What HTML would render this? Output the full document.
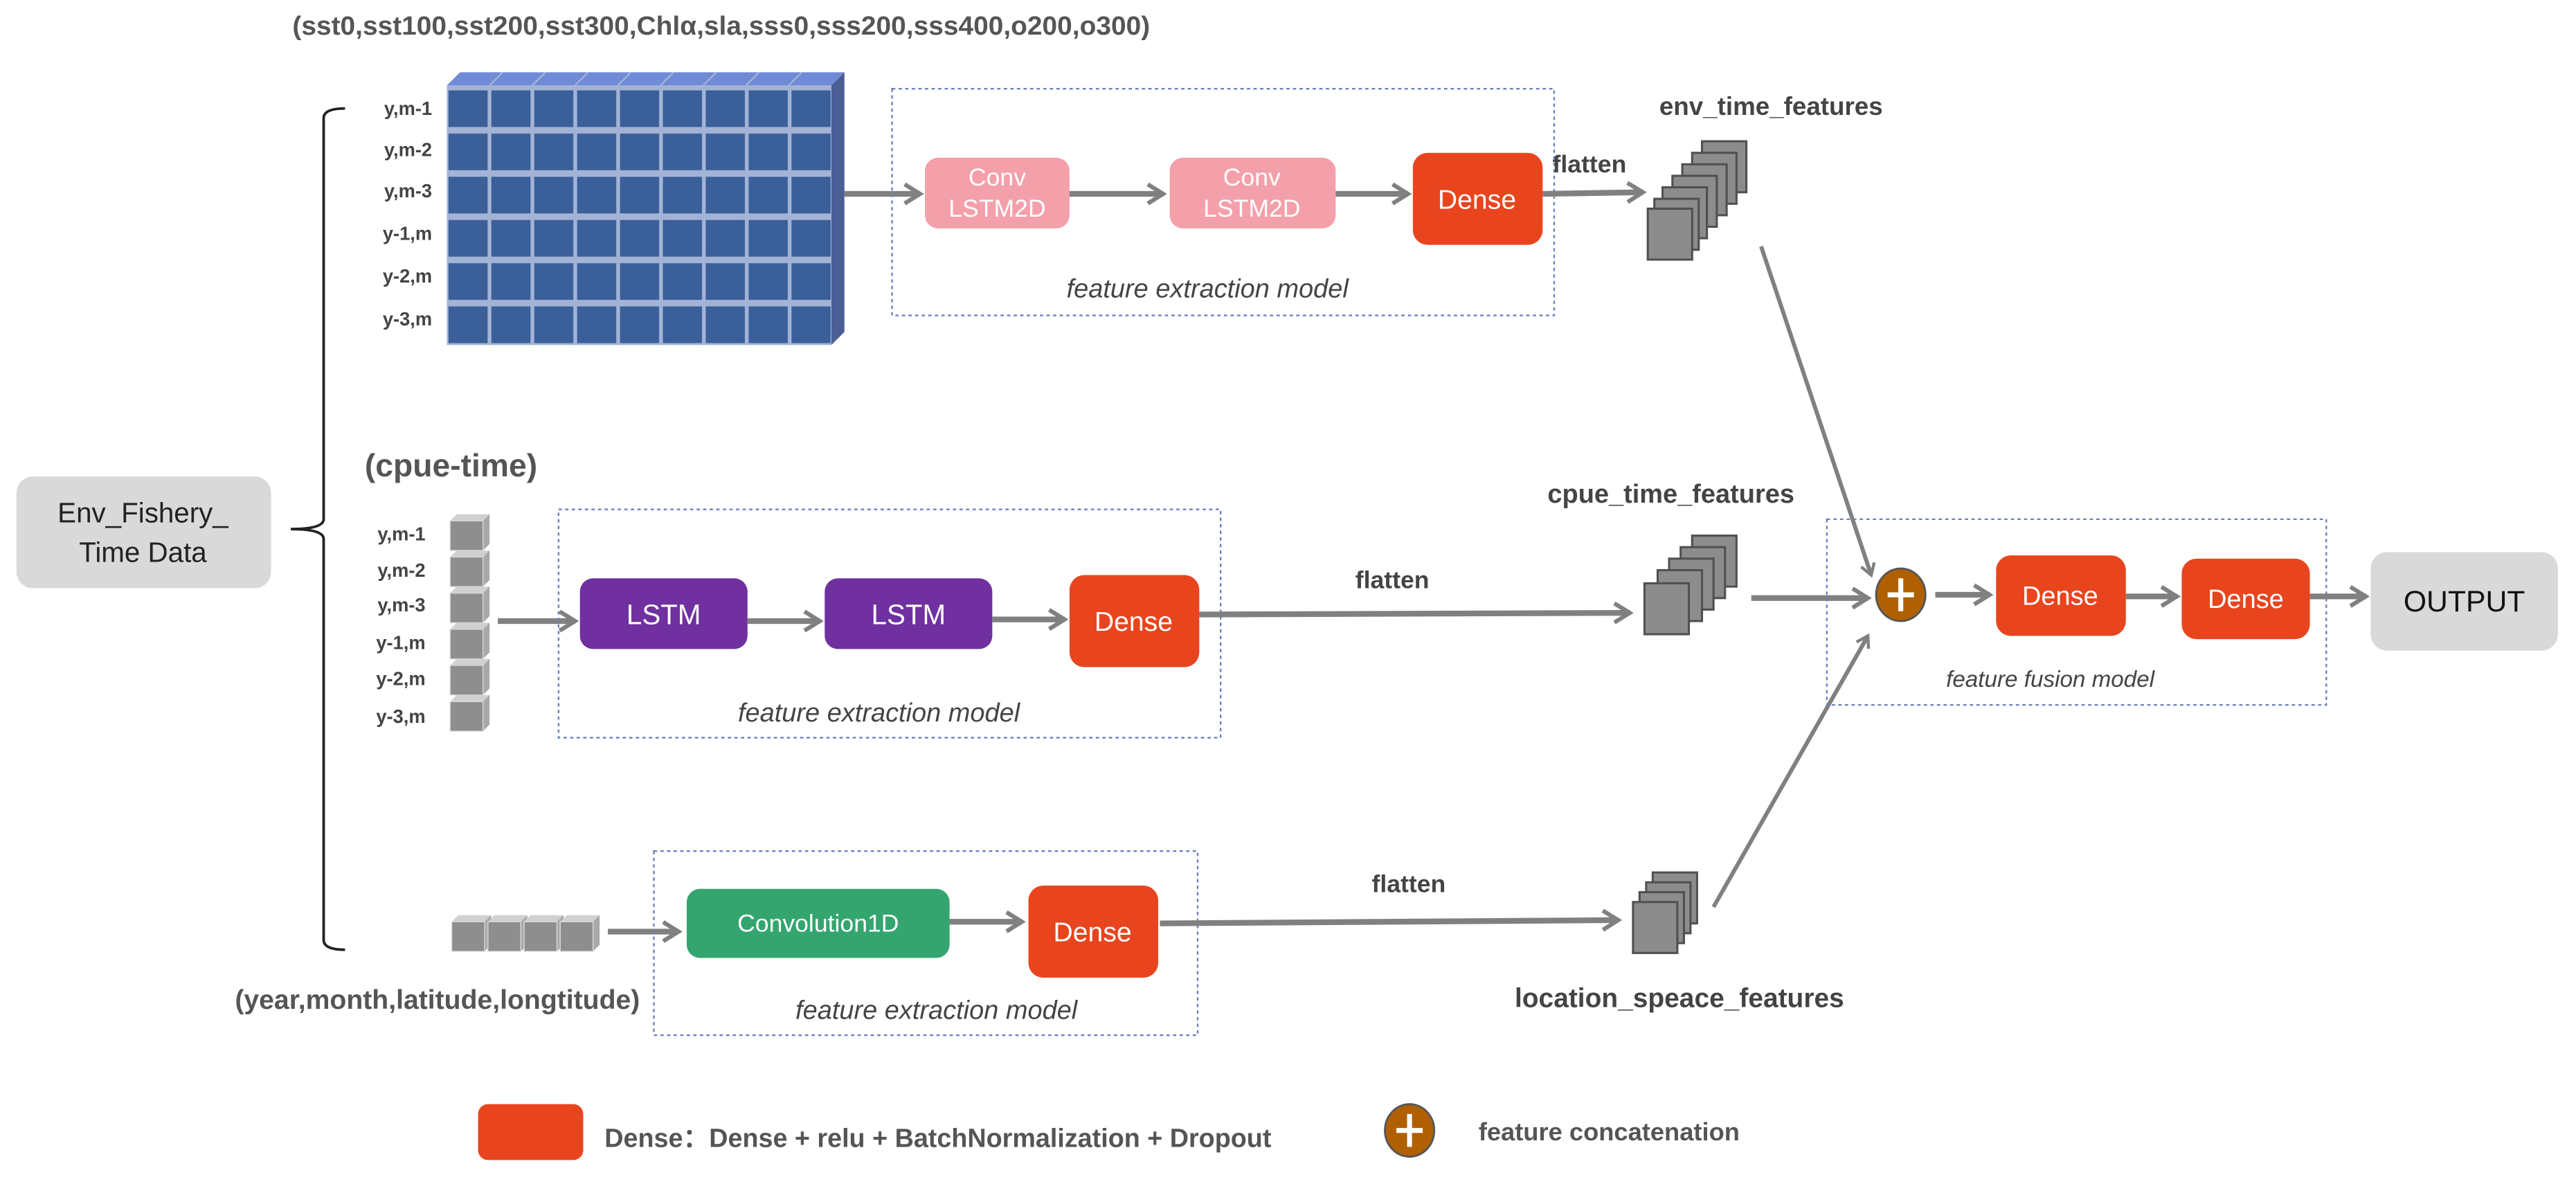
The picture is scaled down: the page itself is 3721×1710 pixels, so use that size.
<!DOCTYPE html>
<html><head><meta charset="utf-8"><style>
html,body{margin:0;padding:0;background:#fff;}
svg{display:block;}
text{font-family:"Liberation Sans",sans-serif;}
</style></head><body>
<svg width="3721" height="1710" viewBox="0 0 1568 720.6" preserveAspectRatio="none" xmlns="http://www.w3.org/2000/svg">
<defs>
<marker id="ar" viewBox="0 0 12 12" refX="10" refY="6" markerWidth="4" markerHeight="4" orient="auto" markerUnits="strokeWidth">
<path d="M2,1 L10,6 L2,11" fill="none" stroke="#808080" stroke-width="2.2"/>
</marker>
<pattern id="grid" x="272" y="52" width="26.1" height="26.3" patternUnits="userSpaceOnUse">
<rect width="26.1" height="26.3" fill="#a3b3d6"/>
<rect x="1" y="3" width="23.8" height="22.3" fill="#3a5f99"/>
</pattern>
<g id="gc">
<polygon points="0,4 4,0 24,0 20,4" fill="#d0d0d0"/>
<polygon points="20,4 24,0 24,18 20,22" fill="#a8a8a8"/>
<rect x="0" y="4" width="20" height="18" fill="#8e8e8e" stroke="#d8d8d8" stroke-width="0.6"/>
</g>
<g id="ft"><rect width="27" height="31" fill="#8c8c8c" stroke="#505050" stroke-width="1.3"/></g>
</defs>

<!-- title -->
<text x="178" y="21" font-size="16" font-weight="bold" fill="#555" textLength="522" lengthAdjust="spacingAndGlyphs">(sst0,sst100,sst200,sst300,Chlα,sla,sss0,sss200,sss400,o200,o300)</text>

<!-- Env box -->
<rect x="10" y="290" width="155" height="68" rx="10" fill="#d9d9d9"/>
<text x="87" y="318" font-size="17" text-anchor="middle" fill="#222">Env_Fishery_</text>
<text x="87" y="342" font-size="17" text-anchor="middle" fill="#222">Time Data</text>

<!-- bracket -->
<path d="M210,66 Q197,66 197,72 L197,316 Q197,322 177,322 Q197,322 197,328 L197,572 Q197,578 210,578" fill="none" stroke="#222" stroke-width="1.6"/>

<!-- cube grid -->
<polygon points="272,52 280,44 514,44 506,52" fill="#6f8ad6"/>
<polygon points="506,52 514,44 514,202 506,210" fill="#4d5e96"/>
<rect x="272" y="52" width="234" height="158" fill="url(#grid)"/>
<g stroke="#a3b3d6" stroke-width="1">
<line x1="298" y1="52" x2="306" y2="44"/><line x1="324" y1="52" x2="332" y2="44"/><line x1="350" y1="52" x2="358" y2="44"/><line x1="376" y1="52" x2="384" y2="44"/><line x1="402" y1="52" x2="410" y2="44"/><line x1="428" y1="52" x2="436" y2="44"/><line x1="454" y1="52" x2="462" y2="44"/><line x1="480" y1="52" x2="488" y2="44"/>
</g>
<g font-size="11.5" font-weight="bold" fill="#444" text-anchor="end">
<text x="263" y="70">y,m-1</text><text x="263" y="95">y,m-2</text><text x="263" y="120">y,m-3</text>
<text x="263" y="146">y-1,m</text><text x="263" y="172">y-2,m</text><text x="263" y="198">y-3,m</text>
</g>

<!-- top row -->
<line x1="514" y1="118" x2="560" y2="118" stroke="#808080" stroke-width="3.5" marker-end="url(#ar)"/>
<rect x="543" y="54" width="403" height="138" fill="none" stroke="#6f7fc0" stroke-width="1" stroke-dasharray="2,2"/>
<rect x="563" y="96" width="88" height="43" rx="8" fill="#f4a0aa"/>
<text x="607" y="113" font-size="15" fill="#fff" text-anchor="middle">Conv</text>
<text x="607" y="132" font-size="15" fill="#fff" text-anchor="middle">LSTM2D</text>
<line x1="651" y1="118" x2="708" y2="118" stroke="#808080" stroke-width="3.5" marker-end="url(#ar)"/>
<rect x="712" y="96" width="101" height="43" rx="8" fill="#f4a0aa"/>
<text x="762" y="113" font-size="15" fill="#fff" text-anchor="middle">Conv</text>
<text x="762" y="132" font-size="15" fill="#fff" text-anchor="middle">LSTM2D</text>
<line x1="813" y1="118" x2="857" y2="118" stroke="#808080" stroke-width="3.5" marker-end="url(#ar)"/>
<rect x="860" y="93" width="79" height="56" rx="9" fill="#e8451e"/>
<text x="899" y="127" font-size="16.5" fill="#fff" text-anchor="middle">Dense</text>
<text x="735" y="181" font-size="16" font-style="italic" fill="#444" text-anchor="middle">feature extraction model</text>
<text x="945" y="105" font-size="15" font-weight="bold" fill="#444">flatten</text>
<line x1="939" y1="118" x2="1000" y2="117" stroke="#808080" stroke-width="3.5" marker-end="url(#ar)"/>
<text x="1010" y="70" font-size="15.5" font-weight="bold" fill="#444">env_time_features</text>
<use href="#ft" x="1036" y="86"/><use href="#ft" x="1030" y="93"/><use href="#ft" x="1024" y="100"/><use href="#ft" x="1018" y="107"/><use href="#ft" x="1012" y="114"/><use href="#ft" x="1007" y="121"/><use href="#ft" x="1003" y="127"/>
<line x1="1072" y1="150" x2="1139" y2="350" stroke="#808080" stroke-width="2.5" marker-end="url(#ar)"/>

<!-- middle row -->
<text x="222" y="290" font-size="19.5" font-weight="bold" fill="#555">(cpue-time)</text>
<use href="#gc" x="274" y="313"/><use href="#gc" x="274" y="335"/><use href="#gc" x="274" y="357"/><use href="#gc" x="274" y="379"/><use href="#gc" x="274" y="401"/><use href="#gc" x="274" y="423"/>
<g font-size="11.5" font-weight="bold" fill="#444" text-anchor="end">
<text x="259" y="329">y,m-1</text><text x="259" y="351">y,m-2</text><text x="259" y="372">y,m-3</text>
<text x="259" y="395">y-1,m</text><text x="259" y="417">y-2,m</text><text x="259" y="440">y-3,m</text>
</g>
<line x1="303" y1="378" x2="350" y2="378" stroke="#808080" stroke-width="3.5" marker-end="url(#ar)"/>
<rect x="340" y="310" width="403" height="139" fill="none" stroke="#6f7fc0" stroke-width="1" stroke-dasharray="2,2"/>
<rect x="353" y="352" width="102" height="43" rx="8" fill="#7030a0"/>
<text x="404" y="380" font-size="17" fill="#fff" text-anchor="middle">LSTM</text>
<line x1="455" y1="378" x2="499" y2="378" stroke="#808080" stroke-width="3.5" marker-end="url(#ar)"/>
<rect x="502" y="352" width="102" height="43" rx="8" fill="#7030a0"/>
<text x="553" y="380" font-size="17" fill="#fff" text-anchor="middle">LSTM</text>
<line x1="604" y1="377" x2="648" y2="377" stroke="#808080" stroke-width="3.5" marker-end="url(#ar)"/>
<rect x="651" y="350" width="79" height="56" rx="9" fill="#e8451e"/>
<text x="690" y="384" font-size="16.5" fill="#fff" text-anchor="middle">Dense</text>
<text x="535" y="439" font-size="16" font-style="italic" fill="#444" text-anchor="middle">feature extraction model</text>
<text x="825" y="358" font-size="15" font-weight="bold" fill="#444">flatten</text>
<line x1="730" y1="374" x2="992" y2="373" stroke="#808080" stroke-width="3.5" marker-end="url(#ar)"/>
<text x="942" y="306" font-size="16" font-weight="bold" fill="#444">cpue_time_features</text>
<use href="#ft" x="1030" y="326"/><use href="#ft" x="1023" y="333"/><use href="#ft" x="1016" y="340"/><use href="#ft" x="1009" y="347"/><use href="#ft" x="1001" y="355"/>
<line x1="1066" y1="364" x2="1137" y2="364" stroke="#808080" stroke-width="3.5" marker-end="url(#ar)"/>

<!-- bottom row -->
<use href="#gc" x="275" y="557"/><use href="#gc" x="297" y="557"/><use href="#gc" x="319" y="557"/><use href="#gc" x="341" y="557"/>
<text x="143" y="614" font-size="16.5" font-weight="bold" fill="#555">(year,month,latitude,longtitude)</text>
<line x1="370" y1="567" x2="413" y2="567" stroke="#808080" stroke-width="3.5" marker-end="url(#ar)"/>
<rect x="398" y="518" width="331" height="112" fill="none" stroke="#6f7fc0" stroke-width="1" stroke-dasharray="2,2"/>
<rect x="418" y="541" width="160" height="42" rx="8" fill="#34a56f"/>
<text x="498" y="567" font-size="15" fill="#fff" text-anchor="middle">Convolution1D</text>
<line x1="578" y1="561" x2="622" y2="561" stroke="#808080" stroke-width="3.5" marker-end="url(#ar)"/>
<rect x="626" y="539" width="79" height="56" rx="9" fill="#e8451e"/>
<text x="665" y="573" font-size="16.5" fill="#fff" text-anchor="middle">Dense</text>
<text x="570" y="620" font-size="16" font-style="italic" fill="#444" text-anchor="middle">feature extraction model</text>
<text x="835" y="543" font-size="15" font-weight="bold" fill="#444">flatten</text>
<line x1="706" y1="562" x2="985" y2="560" stroke="#808080" stroke-width="3.5" marker-end="url(#ar)"/>
<text x="922" y="613" font-size="16.4" font-weight="bold" fill="#444">location_speace_features</text>
<use href="#ft" x="1006" y="531"/><use href="#ft" x="1002" y="537"/><use href="#ft" x="998" y="543"/><use href="#ft" x="994" y="549"/>
<line x1="1043" y1="552" x2="1137" y2="387" stroke="#808080" stroke-width="2.5" marker-end="url(#ar)"/>

<!-- fusion -->
<rect x="1112" y="316" width="304" height="113" fill="none" stroke="#6f7fc0" stroke-width="1" stroke-dasharray="2,2"/>
<ellipse cx="1157" cy="362" rx="15" ry="16" fill="#b06000" stroke="#555" stroke-width="1.2"/>
<path d="M1157,352 V372 M1149,362 H1165" stroke="#fff" stroke-width="3"/>
<line x1="1178" y1="362" x2="1211" y2="362" stroke="#808080" stroke-width="3.5" marker-end="url(#ar)"/>
<rect x="1215" y="338" width="79" height="49" rx="9" fill="#e8451e"/>
<text x="1254" y="368" font-size="16" fill="#fff" text-anchor="middle">Dense</text>
<line x1="1294" y1="363" x2="1325" y2="363" stroke="#808080" stroke-width="3.5" marker-end="url(#ar)"/>
<rect x="1328" y="340" width="78" height="49" rx="9" fill="#e8451e"/>
<text x="1367" y="370" font-size="16" fill="#fff" text-anchor="middle">Dense</text>
<line x1="1406" y1="363" x2="1440" y2="363" stroke="#808080" stroke-width="3.5" marker-end="url(#ar)"/>
<text x="1248" y="418" font-size="14" font-style="italic" fill="#444" text-anchor="middle">feature fusion model</text>
<rect x="1443" y="336" width="114" height="60" rx="10" fill="#d9d9d9"/>
<text x="1500" y="372" font-size="18" fill="#111" text-anchor="middle">OUTPUT</text>

<!-- legend -->
<rect x="291" y="672" width="64" height="34" rx="6" fill="#e8451e"/>
<text x="368" y="698" font-size="15.9" font-weight="bold" fill="#555">Dense：Dense + relu + BatchNormalization + Dropout</text>
<ellipse cx="858" cy="688" rx="15" ry="16" fill="#b06000" stroke="#555" stroke-width="1.2"/>
<path d="M858,678 V698 M850,688 H866" stroke="#fff" stroke-width="3"/>
<text x="900" y="694" font-size="15.3" font-weight="bold" fill="#555">feature concatenation</text>
</svg>
</body></html>
